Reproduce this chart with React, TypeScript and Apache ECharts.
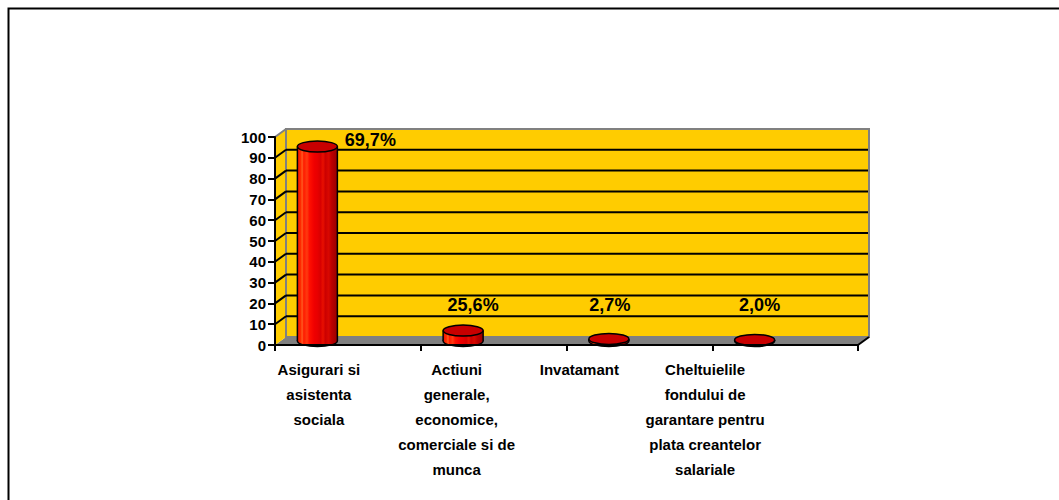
import React, { useEffect, useRef } from "react";
import * as echarts from "echarts";

// ---- data ----
const categories = [
  "Asigurari si\nasistenta\nsociala",
  "Actiuni\ngenerale,\neconomice,\ncomerciale si de\nmunca",
  "Invatamant",
  "Cheltuielile\nfondului de\ngarantare pentru\nplata creantelor\nsalariale",
];
const barHeights = [93.5, 5.0, 1.0, 0.5];
const shareLabels = ["69,7%", "25,6%", "2,7%", "2,0%"];
const Y_MIN = 0;
const Y_MAX = 100;
const Y_INTERVAL = 10;

// ---- layout / style ----
const FONT = "'Liberation Sans', Arial, sans-serif";
const YELLOW = "#FFCC00";
const GREY = "#808080";
const DEPTH = [11, -8];
const BAR_SHIFT = -30.5;
const BAR_W = 40;
const ELL_RY = 5.5;
const CAT_LABEL_SHIFT = [-29, -37, -60, -80];
const VALUE_LABEL_DX = [53, 10, 1, 5];
const VALUE_LABEL_LEVEL = [98.6, 19.2, 19.2, 19.2];

const bodyFill = {
  type: "linear",
  x: 0,
  y: 0,
  x2: 1,
  y2: 0,
  colorStops: [
    { offset: 0, color: "#ee1100" },
    { offset: 0.08, color: "#ff2a00" },
    { offset: 0.12, color: "#ff5a20" },
    { offset: 0.16, color: "#ff1a00" },
    { offset: 0.24, color: "#ff3a10" },
    { offset: 0.3, color: "#ff1000" },
    { offset: 0.42, color: "#f00000" },
    { offset: 0.5, color: "#e80000" },
    { offset: 0.58, color: "#d80000" },
    { offset: 0.64, color: "#e81000" },
    { offset: 0.7, color: "#cc0000" },
    { offset: 0.78, color: "#d80800" },
    { offset: 0.86, color: "#bb0000" },
    { offset: 1, color: "#990000" },
  ],
};

function renderWalls(_params: any, api: any) {
  const c0 = api.coord([0, Y_MIN]);
  const bw = api.size([1, 0])[0];
  const x0 = c0[0] - bw / 2;
  const x1 = x0 + bw * categories.length;
  const yb = c0[1];
  const yt = api.coord([0, Y_MAX])[1];
  const [dx, dy] = DEPTH;
  const children: any[] = [];
  children.push({
    type: "polygon",
    shape: { points: [[x0, yb], [x1, yb], [x1 + dx, yb + dy], [x0 + dx, yb + dy]] },
    style: { fill: GREY },
  });
  children.push({
    type: "polygon",
    shape: { points: [[x0, yb], [x0, yt], [x0 + dx, yt + dy], [x0 + dx, yb + dy]] },
    style: { fill: YELLOW },
  });
  children.push({
    type: "rect",
    shape: { x: x0 + dx, y: yt + dy, width: x1 - x0, height: yb - yt },
    style: { fill: YELLOW, stroke: GREY, lineWidth: 2 },
  });
  for (let v = Y_MIN + Y_INTERVAL; v < Y_MAX; v += Y_INTERVAL) {
    const y = api.coord([0, v])[1];
    children.push({
      type: "line",
      shape: { x1: x0, y1: y, x2: x0 + dx, y2: y + dy },
      style: { stroke: "#000", lineWidth: 2 },
    });
    children.push({
      type: "line",
      shape: { x1: x0 + dx, y1: y + dy, x2: x1 + dx - 1, y2: y + dy },
      style: { stroke: "#000", lineWidth: 2 },
    });
  }
  children.push({
    type: "line",
    shape: { x1: x0, y1: yt, x2: x0 + dx, y2: yt + dy },
    style: { stroke: GREY, lineWidth: 2 },
  });
  children.push({
    type: "line",
    shape: { x1: x1, y1: yb, x2: x1 + dx, y2: yb + dy },
    style: { stroke: "#000", lineWidth: 2 },
  });
  return { type: "group", children };
}

function renderBars(params: any, api: any) {
  const i = params.dataIndex;
  const idx = api.value(0);
  const base = api.coord([idx, Y_MIN]);
  const top = api.coord([idx, api.value(1)]);
  const cx = base[0] + BAR_SHIFT;
  const yb = base[1] + DEPTH[1] / 2;
  const yt = top[1] + DEPTH[1] / 2;
  const rx = BAR_W / 2;
  const children: any[] = [
    {
      type: "ellipse",
      shape: { cx, cy: yb, rx, ry: ELL_RY },
      style: { fill: bodyFill, stroke: "#000", lineWidth: 1.5 },
    },
    {
      type: "rect",
      shape: { x: cx - rx, y: yt, width: BAR_W, height: Math.max(0, yb - yt) },
      style: { fill: bodyFill },
    },
    {
      type: "line",
      shape: { x1: cx - rx, y1: yt, x2: cx - rx, y2: yb },
      style: { stroke: "#000", lineWidth: 1.5 },
    },
    {
      type: "line",
      shape: { x1: cx + rx, y1: yt, x2: cx + rx, y2: yb },
      style: { stroke: "#000", lineWidth: 1.5 },
    },
    {
      type: "ellipse",
      shape: { cx, cy: yt, rx, ry: ELL_RY },
      style: { fill: "#c80000", stroke: "#000", lineWidth: 1.5 },
    },
    {
      type: "text",
      style: {
        text: shareLabels[i],
        x: cx + VALUE_LABEL_DX[i],
        y: api.coord([idx, VALUE_LABEL_LEVEL[i]])[1],
        align: "center",
        verticalAlign: "middle",
        font: `bold 18px ${FONT}`,
        fill: "#000",
      },
    },
    {
      type: "text",
      style: {
        text: categories[i],
        x: base[0] + CAT_LABEL_SHIFT[i],
        y: base[1] + 11.5,
        align: "center",
        verticalAlign: "top",
        font: `bold 15px ${FONT}`,
        lineHeight: 25,
        fill: "#000",
      },
    },
  ];
  return { type: "group", children };
}

export default function App() {
  const ref = useRef<HTMLDivElement>(null);
  useEffect(() => {
    if (!ref.current) return;
    const chart = echarts.init(ref.current, undefined, { renderer: "svg" });
    chart.setOption({
      animation: false,
      backgroundColor: "#fff",
      graphic: [
        {
          type: "rect",
          shape: { x: 8.5, y: 8.5, width: 1200, height: 700 },
          style: { fill: "none", stroke: "#000", lineWidth: 2 },
          z: 0,
        },
      ],
      grid: { left: 275, top: 137, width: 583, height: 208 },
      xAxis: {
        type: "category",
        data: categories,
        z: 10,
        axisLine: { show: true, lineStyle: { color: "#000", width: 2 } },
        axisTick: { show: true, length: 6, alignWithLabel: false, lineStyle: { color: "#000", width: 2 } },
        axisLabel: { show: false },
        splitLine: { show: false },
      },
      yAxis: {
        type: "value",
        min: Y_MIN,
        max: Y_MAX,
        interval: Y_INTERVAL,
        z: 10,
        axisLine: { show: true, lineStyle: { color: "#000", width: 2 } },
        axisTick: { show: true, length: 7, lineStyle: { color: "#000", width: 2 } },
        axisLabel: {
          color: "#000",
          fontFamily: FONT,
          fontWeight: "bold",
          fontSize: 15,
          margin: 9,
        },
        splitLine: { show: false },
      },
      series: [
        {
          type: "custom",
          renderItem: renderWalls,
          data: [[0, 0]],
          encode: { x: 0, y: 1 },
          clip: false,
          silent: true,
          z: 1,
        },
        {
          type: "custom",
          renderItem: renderBars,
          data: barHeights.map((v, i) => [i, v]),
          encode: { x: 0, y: 1 },
          clip: false,
          z: 3,
        },
      ],
    });
    return () => chart.dispose();
  }, []);
  return (
    <div
      ref={ref}
      style={{ position: "fixed", left: 0, top: 0, width: 1059, height: 500, background: "#fff" }}
    />
  );
}
